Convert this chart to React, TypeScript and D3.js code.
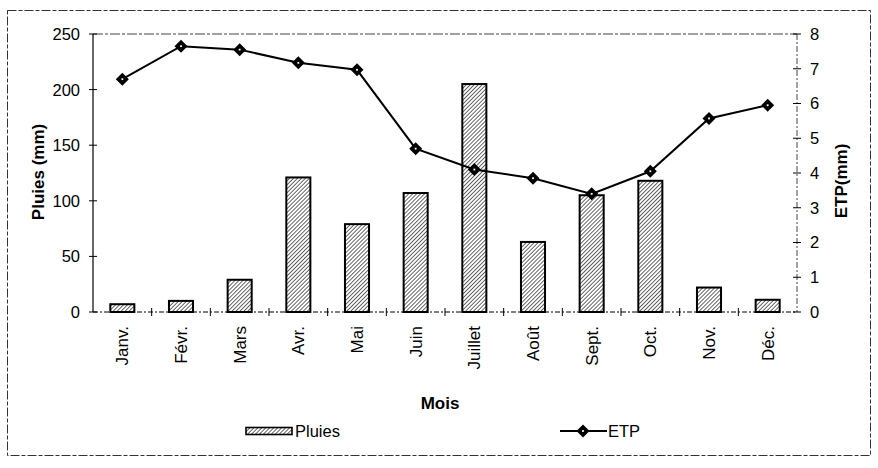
import React from "react";
import * as d3 from "d3";

const months = ["Janv.", "Févr.", "Mars", "Avr.", "Mai", "Juin", "Juillet", "Août", "Sept.", "Oct.", "Nov.", "Déc."];
const pluies = [7, 10, 29, 121, 79, 107, 205, 63, 105, 118, 22, 11];
const etp = [6.7, 7.65, 7.55, 7.17, 6.97, 4.7, 4.1, 3.85, 3.4, 4.05, 5.57, 5.95];
const leftTicks = [0, 50, 100, 150, 200, 250];
const rightTicks = [0, 1, 2, 3, 4, 5, 6, 7, 8];

const W = 878, H = 468;
const X0 = 93, X1 = 797, Y0 = 34, Y1 = 312;
const FONT = "'Liberation Sans', Arial, sans-serif";

export default function App() {
  const x = d3.scaleBand<string>().domain(months).range([X0, X1]).paddingInner(0.59).paddingOuter(0.295);
  const step = (X1 - X0) / months.length;
  const yL = d3.scaleLinear().domain([0, 250]).range([Y1, Y0]);
  const yR = d3.scaleLinear().domain([0, 8]).range([Y1, Y0]);
  const cx = (m: string) => (x(m) as number) + x.bandwidth() / 2;
  const line = d3.line<number>().x((_, i) => cx(months[i])).y((d) => yR(d));
  const diamond = (px: number, py: number, r = 6.5) => `M${px},${py - r}L${px + r},${py}L${px},${py + r}L${px - r},${py}Z`;

  return (
    <svg width={W} height={H} style={{ position: "absolute", left: 0, top: 0, background: "#fff" }} fontFamily={FONT}>
      <defs>
        <pattern id="hatch" patternUnits="userSpaceOnUse" width={2.8} height={2.8} patternTransform="rotate(45)">
          <rect width={2.8} height={2.8} fill="#fff" />
          <line x1={0} y1={0} x2={0} y2={2.8} stroke="#000" strokeWidth={1.2} />
        </pattern>
      </defs>
      {/* outer border */}
      <rect x={7.5} y={10.5} width={863} height={445} fill="none" stroke="#333" strokeWidth={1} strokeDasharray="9 2 4 2" />
      {/* plot frame */}
      <line x1={X0} x2={X1} y1={Y0} y2={Y0} stroke="#444" strokeWidth={1} strokeDasharray="10 2 3 2" />
      <line x1={X1} x2={X1} y1={Y0} y2={Y1} stroke="#444" strokeWidth={1} strokeDasharray="6 2 2 2" />
      <line x1={X0} x2={X0} y1={Y0} y2={Y1} stroke="#000" strokeWidth={1.2} />
      <line x1={X0} x2={X1} y1={Y1} y2={Y1} stroke="#000" strokeWidth={1} strokeDasharray="5 2 2 2" />
      {/* left ticks */}
      {leftTicks.map((t) => (
        <g key={"l" + t}>
          <line x1={X0 - 4} x2={X0 + 4} y1={yL(t)} y2={yL(t)} stroke="#000" />
          <text x={80} y={yL(t)} dy="0.36em" textAnchor="end" fontSize={16.5}>{t}</text>
        </g>
      ))}
      {/* right ticks */}
      {rightTicks.map((t) => (
        <g key={"r" + t}>
          <line x1={X1 - 4} x2={X1 + 4} y1={yR(t)} y2={yR(t)} stroke="#000" />
          <text x={810} y={yR(t)} dy="0.36em" textAnchor="start" fontSize={16.5}>{t}</text>
        </g>
      ))}
      {/* x ticks */}
      {d3.range(1, months.length).map((i) => (
        <line key={"x" + i} x1={X0 + i * step} x2={X0 + i * step} y1={Y1 - 4} y2={Y1 + 4} stroke="#000" />
      ))}
      {/* bars */}
      {pluies.map((v, i) => (
        <rect key={"b" + i} x={x(months[i])} y={yL(v)} width={x.bandwidth()} height={Y1 - yL(v)} fill="url(#hatch)" stroke="#000" strokeWidth={2} />
      ))}
      {/* ETP line */}
      <path d={line(etp) || ""} fill="none" stroke="#000" strokeWidth={2} />
      {etp.map((v, i) => (
        <g key={"m" + i}>
          <path d={diamond(cx(months[i]), yR(v))} fill="#000" />
          <rect x={cx(months[i]) - 0.9} y={yR(v) - 0.9} width={1.8} height={1.8} fill="#fff" />
        </g>
      ))}
      {/* x labels */}
      {months.map((m) => (
        <text key={"t" + m} transform={`translate(${cx(m)},${326}) rotate(-90)`} dy="0.36em" textAnchor="end" fontSize={17}>{m}</text>
      ))}
      {/* axis titles */}
      <text transform={`translate(38,172) rotate(-90)`} dy="0.36em" textAnchor="middle" fontSize={17} fontWeight="bold">Pluies (mm)</text>
      <text transform={`translate(841,181) rotate(-90)`} dy="0.36em" textAnchor="middle" fontSize={17} fontWeight="bold">ETP(mm)</text>
      <text x={440} y={409} textAnchor="middle" fontSize={17} fontWeight="bold">Mois</text>
      {/* legend */}
      <rect x={246} y={427.5} width={46} height={7} fill="url(#hatch)" stroke="#000" strokeWidth={1.6} />
      <text x={295} y={431} dy="0.36em" fontSize={16.5}>Pluies</text>
      <line x1={560} x2={607} y1={431} y2={431} stroke="#000" strokeWidth={2} />
      <path d={diamond(583, 431)} fill="#000" />
      <rect x={582.1} y={430.1} width={1.8} height={1.8} fill="#fff" />
      <text x={608} y={431} dy="0.36em" fontSize={16.5}>ETP</text>
    </svg>
  );
}
